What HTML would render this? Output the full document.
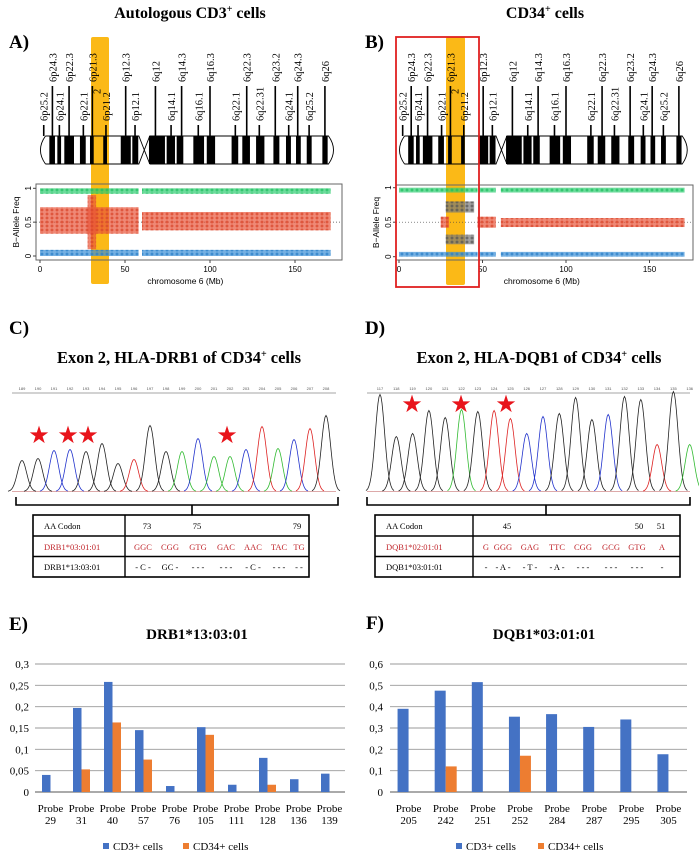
<!DOCTYPE html>
<html><head><meta charset="utf-8">
<style>
html,body{margin:0;padding:0;background:#fff;}
svg{display:block;font-family:"Liberation Serif",serif;}
.sans{font-family:"Liberation Sans",sans-serif;}
</style></head>
<body>
<svg id="fig" width="699" height="854" viewBox="0 0 699 854" xmlns="http://www.w3.org/2000/svg">
<defs>
<pattern id="pg" width="5" height="4" patternUnits="userSpaceOnUse"><path d="M0.5 2h3M2 0.5v3" stroke="#1fbf5f" stroke-width="0.9"/></pattern>
<pattern id="pr" width="5" height="4" patternUnits="userSpaceOnUse"><path d="M0.5 2h3M2 0.5v3" stroke="#d9442a" stroke-width="0.9"/></pattern>
<pattern id="pb" width="5" height="4" patternUnits="userSpaceOnUse"><path d="M0.5 2h3M2 0.5v3" stroke="#2a7fc8" stroke-width="0.9"/></pattern>
<pattern id="pk" width="5" height="4" patternUnits="userSpaceOnUse"><path d="M0.5 2h3M2 0.5v3" stroke="#555" stroke-width="0.9"/></pattern>
</defs>
<text x="190" y="18" text-anchor="middle" font-weight="bold" font-size="16">Autologous  CD3<tspan font-size="10" dy="-6">+</tspan><tspan dy="6"> cells</tspan></text>
<text x="545" y="18" text-anchor="middle" font-weight="bold" font-size="16">CD34<tspan font-size="10" dy="-6">+</tspan><tspan dy="6"> cells</tspan></text>
<text x="9" y="48" font-weight="bold" font-size="19">A)</text>
<text x="365" y="48" font-weight="bold" font-size="19">B)</text>
<text x="9" y="334" font-weight="bold" font-size="19">C)</text>
<text x="365" y="334" font-weight="bold" font-size="19">D)</text>
<text x="179" y="363" text-anchor="middle" font-weight="bold" font-size="16.5">Exon 2, HLA-DRB1 of CD34<tspan font-size="10" dy="-6">+</tspan><tspan dy="6">  cells</tspan></text>
<text x="539" y="363" text-anchor="middle" font-weight="bold" font-size="16.5">Exon 2, HLA-DQB1 of  CD34<tspan font-size="10" dy="-6">+</tspan><tspan dy="6">  cells</tspan></text>
<text x="9" y="630" font-weight="bold" font-size="19">E)</text>
<text x="366" y="629" font-weight="bold" font-size="19">F)</text>
<text x="197" y="639" text-anchor="middle" font-weight="bold" font-size="15">DRB1*13:03:01</text>
<text x="544" y="639" text-anchor="middle" font-weight="bold" font-size="15">DQB1*03:01:01</text>

<g font-size="8.5">
<rect x="33" y="515" width="276" height="62" fill="none" stroke="#000" stroke-width="1.6"/>
<line x1="33" y1="536" x2="309" y2="536" stroke="#000" stroke-width="1.4"/>
<line x1="33" y1="556.5" x2="309" y2="556.5" stroke="#000" stroke-width="1.4"/>
<line x1="125" y1="515" x2="125" y2="577" stroke="#000" stroke-width="1.4"/>
<text x="44" y="529">AA Codon</text>
<text x="147" y="529" text-anchor="middle">73</text><text x="197" y="529" text-anchor="middle">75</text><text x="297" y="529" text-anchor="middle">79</text>
<g fill="#c0272d"><text x="44" y="550">DRB1*03:01:01</text>
<text x="143" y="550" text-anchor="middle">GGC</text><text x="170" y="550" text-anchor="middle">CGG</text><text x="198" y="550" text-anchor="middle">GTG</text><text x="226" y="550" text-anchor="middle">GAC</text><text x="253" y="550" text-anchor="middle">AAC</text><text x="279" y="550" text-anchor="middle">TAC</text><text x="299" y="550" text-anchor="middle">TG</text></g>
<text x="44" y="570">DRB1*13:03:01</text>
<text x="143" y="570" text-anchor="middle">- C -</text><text x="170" y="570" text-anchor="middle">GC -</text><text x="198" y="570" text-anchor="middle">- - -</text><text x="226" y="570" text-anchor="middle">- - -</text><text x="253" y="570" text-anchor="middle">- C -</text><text x="279" y="570" text-anchor="middle">- - -</text><text x="299" y="570" text-anchor="middle">- -</text>
</g>
<g font-size="8.5">
<rect x="375" y="515" width="305" height="62" fill="none" stroke="#000" stroke-width="1.6"/>
<line x1="375" y1="536" x2="680" y2="536" stroke="#000" stroke-width="1.4"/>
<line x1="375" y1="556.5" x2="680" y2="556.5" stroke="#000" stroke-width="1.4"/>
<line x1="473" y1="515" x2="473" y2="577" stroke="#000" stroke-width="1.4"/>
<text x="386" y="529">AA Codon</text>
<text x="507" y="529" text-anchor="middle">45</text><text x="639" y="529" text-anchor="middle">50</text><text x="661" y="529" text-anchor="middle">51</text>
<g fill="#c0272d"><text x="386" y="550">DQB1*02:01:01</text>
<text x="486" y="550" text-anchor="middle">G</text><text x="503" y="550" text-anchor="middle">GGG</text><text x="530" y="550" text-anchor="middle">GAG</text><text x="557" y="550" text-anchor="middle">TTC</text><text x="583" y="550" text-anchor="middle">CGG</text><text x="611" y="550" text-anchor="middle">GCG</text><text x="637" y="550" text-anchor="middle">GTG</text><text x="662" y="550" text-anchor="middle">A</text></g>
<text x="386" y="570">DQB1*03:01:01</text>
<text x="486" y="570" text-anchor="middle">-</text><text x="503" y="570" text-anchor="middle">- A -</text><text x="530" y="570" text-anchor="middle">- T -</text><text x="557" y="570" text-anchor="middle">- A -</text><text x="583" y="570" text-anchor="middle">- - -</text><text x="611" y="570" text-anchor="middle">- - -</text><text x="637" y="570" text-anchor="middle">- - -</text><text x="662" y="570" text-anchor="middle">-</text>
</g>
<path d="M16 497V505H338V497M192 505V515" fill="none" stroke="#000" stroke-width="1.6"/>
<path d="M367 497V505H690V497M546 505V515" fill="none" stroke="#000" stroke-width="1.6"/>
<g fill="#e8141b" font-size="24" font-family="DejaVu Sans,sans-serif" text-anchor="middle">
<text x="39" y="443">★</text><text x="68" y="443">★</text><text x="88" y="443">★</text><text x="227" y="443">★</text>
<text x="412" y="412">★</text><text x="461" y="412">★</text><text x="506" y="412">★</text>
</g>
</svg>
<script>
const NS='http://www.w3.org/2000/svg';
const svg=document.getElementById('fig');
function mk(tag,attrs,parent){const e=document.createElementNS(NS,tag);for(const k in attrs)e.setAttribute(k,attrs[k]);(parent||svg).appendChild(e);return e;}

const blackBands=[[5.5,8.8],[10.2,12.4],[14.3,20],[23.5,26.9],[29.4,31.6],[37.2,39.4],[47.5,53.4],[54.3,57.8],[64.1,73.5],[74.5,79.4],[80.4,84.3],[90.2,96.5],[98.1,103],[112.7,116.6],[119,123.5],[127.1,132],[137.3,140.8],[144.7,147.6],[150.6,153.4],[156.9,159.8],[166.1,169.2]];
const bandNames=['6p25.2','6p24.3','6p24.1','6p22.3','6p22.1','6p21.3','6p21.2','6p12.3','6p12.1','6q12','6q14.1','6q14.3','6q16.1','6q16.3','6q22.1','6q22.3','6q22.31','6q23.2','6q24.1','6q24.3','6q25.2','6q26'];
const bandPos=[2.2,7.3,11.4,17.1,25.5,30.8,38.8,50.4,55.9,67.9,77.1,83.3,93.1,100,114.9,121.6,129,138.4,146.3,151.6,158.3,167.6];
const bandLong=[0,1,0,1,0,1,0,1,0,1,0,1,0,1,0,1,0,1,0,1,0,1];

const bafA=[[0,58,0.92,1,'g'],[60,171,0.92,1,'g'],[0,58,0.33,0.72,'r'],[60,171,0.38,0.65,'r'],[28,33,0.1,0.9,'r'],[0,58,0,0.09,'b'],[60,171,0,0.09,'b']];
const bafB=[[0,47,0.93,1,'g'],[48,58,0.93,1,'g'],[61,171,0.93,1,'g'],[25,30,0.42,0.58,'r'],[47,58,0.42,0.58,'r'],[61,171,0.43,0.56,'r'],[28,45,0.64,0.8,'k'],[28,45,0.18,0.32,'k'],[0,47,0,0.07,'b'],[48,58,0,0.07,'b'],[61,171,0,0.07,'b']];
const bafTicks=[0,50,100,150];

function panelKaryo(o,baf,tag){
  const X=mb=>o.x0+mb*o.s;
  const hl=mk('rect',{x:o.hx,y:37,width:o.hw,height:o.hh,fill:'#fbb917',rx:2});
  
  
  const g=mk('g',{});
  
  
  const yT=136,yB=164;
  const L=X(-1.5),C1=X(60.5),C2=X(62.2),R=X(175);
  mk('path',{d:`M${L+8} ${yT}H${C1-4}L${C2+4} ${yB}M${L+8} ${yB}H${C1-4}L${C2+4} ${yT}H${R-9}Q${R+1} ${(yT+yB)/2} ${R-9} ${yB}H${C2+4}M${L+8} ${yT}Q${L-2} ${(yT+yB)/2} ${L+8} ${yB}`,fill:'none',stroke:'#000','stroke-width':0.9},g);
  blackBands.forEach(b=>{
    const r=mk('rect',{x:X(b[0]),y:yT,width:X(b[1])-X(b[0]),height:yB-yT,fill:'#000'},g);
    
    
  });
  bandNames.forEach((n,i)=>{
    const x=X(bandPos[i]);const top=bandLong[i]?86:125;
    mk('line',{x1:x,y1:top,x2:x,y2:yT,stroke:'#000','stroke-width':1.6},g);
    const t=mk('text',{x:0,y:0,'font-size':10.5,'text-anchor':'start',transform:`translate(${x+4},${top-4}) rotate(-90)`},g);
    t.textContent=n;
    
    
  });
  const t2=mk('text',{x:0,y:0,'font-size':10.5,transform:`translate(${X(35.5)},${94}) rotate(-90)`},g);t2.textContent='2';
  const p=mk('g',{});
  
  
  const Y=v=>o.y0+(o.y1-o.y0)*v;
  mk('rect',{x:o.bx,y:o.by,width:o.bw,height:o.bh,fill:'none',stroke:'#666','stroke-width':1},p);
  mk('line',{x1:o.bx,y1:Y(0.5),x2:o.bx+o.bw,y2:Y(0.5),stroke:'#444','stroke-dasharray':'1 2','stroke-width':0.7},p);
  const fills={g:'url(#pg)',r:'url(#pr)',b:'url(#pb)',k:'url(#pk)'};
  const solid={g:'#2ecc71',r:'#e8553a',b:'#3b8fd6',k:'#777'};
  baf.forEach(s=>{
    const yA=Y(s[3]),yBt=Y(s[2]);
    const r1=mk('rect',{x:X(s[0]),y:yA,width:X(s[1])-X(s[0]),height:yBt-yA,fill:solid[s[4]],opacity:0.7},p);
    
    
    mk('rect',{x:X(s[0]),y:yA,width:X(s[1])-X(s[0]),height:yBt-yA,fill:fills[s[4]]},p);
  });
  [[1,'1'],[0.5,'0.5'],[0,'0']].forEach(v=>{
    mk('line',{x1:o.bx-3,y1:Y(v[0]),x2:o.bx,y2:Y(v[0]),stroke:'#444'},p);
    const t=mk('text',{x:0,y:0,'font-size':8,'text-anchor':'middle',class:'sans',transform:`translate(${o.bx-5},${Y(v[0])}) rotate(-90)`},p);t.textContent=v[1];
  });
  const yl=mk('text',{x:0,y:0,'font-size':8.5,'text-anchor':'middle',class:'sans',transform:`translate(${o.bx-17},${(o.by+o.by+o.bh)/2}) rotate(-90)`},p);yl.textContent='B−Allele Freq';
  bafTicks.forEach(v=>{
    mk('line',{x1:X(v),y1:o.by+o.bh,x2:X(v),y2:o.by+o.bh+3,stroke:'#444'},p);
    const t=mk('text',{x:X(v),y:o.by+o.bh+12,'font-size':8,'text-anchor':'middle',class:'sans'},p);t.textContent=v;
  });
  const xl=mk('text',{x:(X(0)+X(171))/2,y:o.by+o.bh+24,'font-size':8.5,'text-anchor':'middle',class:'sans'},p);xl.textContent='chromosome 6 (Mb)';
}
panelKaryo({x0:40,s:1.7,hx:91,hw:18,hh:247,y0:256,y1:188.3,bx:36,by:184,bw:306,bh:76},bafA,'panel-a');
panelKaryo({x0:399,s:1.67,hx:446,hw:19,hh:248,y0:256.7,y1:187.7,bx:396,by:185,bw:297,bh:75},bafB,'panel-b');
const roi=mk('rect',{x:396,y:37,width:83,height:250,fill:'none',stroke:'#e02020','stroke-width':1.8});



const peaksC=[31,33,41,42,40,48,28,32,66,40,40,53,35,35,42,65,43,52,63,76];
const colorsC=['k','k','b','b','k','k','k','r','k','k','g','b','g','g','b','r','g','b','r','k'];
const peaksD=[97,55,58,81,74,82,80,81,73,58,75,78,94,72,77,95,92,47,100,47];
const colorsD=['k','k','k','k','k','g','k','r','r','b','b','k','k','k','b','k','k','r','k','g'];
const posC=[189,190,191,192,193,194,195,196,197,198,199,200,201,202,203,204,205,206,207,208];
const posD=[117,118,119,120,121,122,123,124,125,126,127,128,129,130,131,132,133,134,135,136];
const traceCol={k:'#222',b:'#2233cc',r:'#dd2222',g:'#33bb33'};
function chrom(peaks,cols,pos,x0,dx,base,lx1,lx2,tag){
  const g=mk('g',{});
  
  
  mk('line',{x1:lx1,y1:393,x2:lx2,y2:393,stroke:'#888','stroke-width':0.8},g);
  mk('line',{x1:lx1,y1:base,x2:lx2,y2:base,stroke:'#b55','stroke-width':0.6},g);
  peaks.forEach((h,i)=>{
    const cx=x0+i*dx;let d='';
    for(let t=-14;t<=14;t+=1){const y=base-h*Math.exp(-(t*t)/(2*4.6*4.6));d+=(t==-14?'M':'L')+(cx+t).toFixed(1)+' '+y.toFixed(1);}
    const p=mk('path',{d:d,fill:'none',stroke:traceCol[cols[i]],'stroke-width':0.8},g);
    
    
    const t=mk('text',{x:cx,y:390,'font-size':4,'text-anchor':'middle',fill:'#555',class:'sans'},g);t.textContent=pos[i];
  });
}
chrom(peaksC,colorsC,posC,22,16,491.5,12,336,'panel-c');
chrom(peaksD,colorsD,posD,380,16.3,491.5,367,690,'panel-d');

const catE=['29','31','40','57','76','105','111','128','136','139'];
const cd3E=[0.04,0.197,0.258,0.145,0.014,0.152,0.017,0.08,0.03,0.043];
const cd34E=[0,0.053,0.163,0.076,0,0.134,0,0.017,0,0];
const tickValE=[0,0.05,0.1,0.15,0.2,0.25,0.3];
const tickLabE=['0','0,05','0,1','0,15','0,2','0,25','0,3'];
const catF=['205','242','251','252','284','287','295','305'];
const cd3F=[0.39,0.475,0.515,0.353,0.365,0.305,0.34,0.177];
const cd34F=[0,0.12,0,0.17,0,0,0,0];
const tickValF=[0,0.1,0.2,0.3,0.4,0.5,0.6];
const tickLabF=['0','0,1','0,2','0,3','0,4','0,5','0,6'];
function bars(o,cats,s1,s2,tv,tl,tag){
  const g=mk('g',{});
  
  
  const Y=v=>o.y0-(o.y0-o.yt)*v/o.max;
  const cw=(o.x1-o.x0)/cats.length;
  tv.forEach((v,i)=>{
    mk('line',{x1:o.x0,y1:Y(v),x2:o.x1,y2:Y(v),stroke:i==0?'#777':'#999','stroke-width':i==0?1.2:0.9},g);
    const t=mk('text',{x:o.lx,y:Y(v)+4,'font-size':11,'text-anchor':'end'},g);t.textContent=tl[i];
    
    
  });
  cats.forEach((c,i)=>{
    const cx=o.x0+cw*(i+0.5);
    const b1=mk('rect',{x:cx-o.bw,y:Y(s1[i]),width:o.bw,height:o.y0-Y(s1[i]),fill:'#4472c4'},g);
    
    
    if(s2[i]>0){
      const b2=mk('rect',{x:cx,y:Y(s2[i]),width:o.bw,height:o.y0-Y(s2[i]),fill:'#ed7d31'},g);
      
      
    }
    const t1=mk('text',{x:cx,y:812,'font-size':11,'text-anchor':'middle'},g);t1.textContent='Probe';
    
    
    const t2=mk('text',{x:cx,y:824,'font-size':11,'text-anchor':'middle'},g);t2.textContent=c;
  });
  [[o.lg1,'#4472c4','CD3+ cells'],[o.lg2,'#ed7d31','CD34+ cells']].forEach(l=>{
    const r=mk('rect',{x:l[0],y:843,width:6,height:6,fill:l[1]},g);
    
    
    const t=mk('text',{x:l[0]+10,y:850,'font-size':11},g);t.textContent=l[2];
    
    
  });
}
bars({x0:35,x1:345,y0:792,yt:664,max:0.3,bw:8.5,lx:29,lg1:103,lg2:183},catE,cd3E,cd34E,tickValE,tickLabE,'panel-e');
bars({x0:390,x1:687,y0:792,yt:664,max:0.6,bw:11,lx:383,lg1:456,lg2:538},catF,cd3F,cd34F,tickValF,tickLabF,'panel-f');
</script>
</body></html>
